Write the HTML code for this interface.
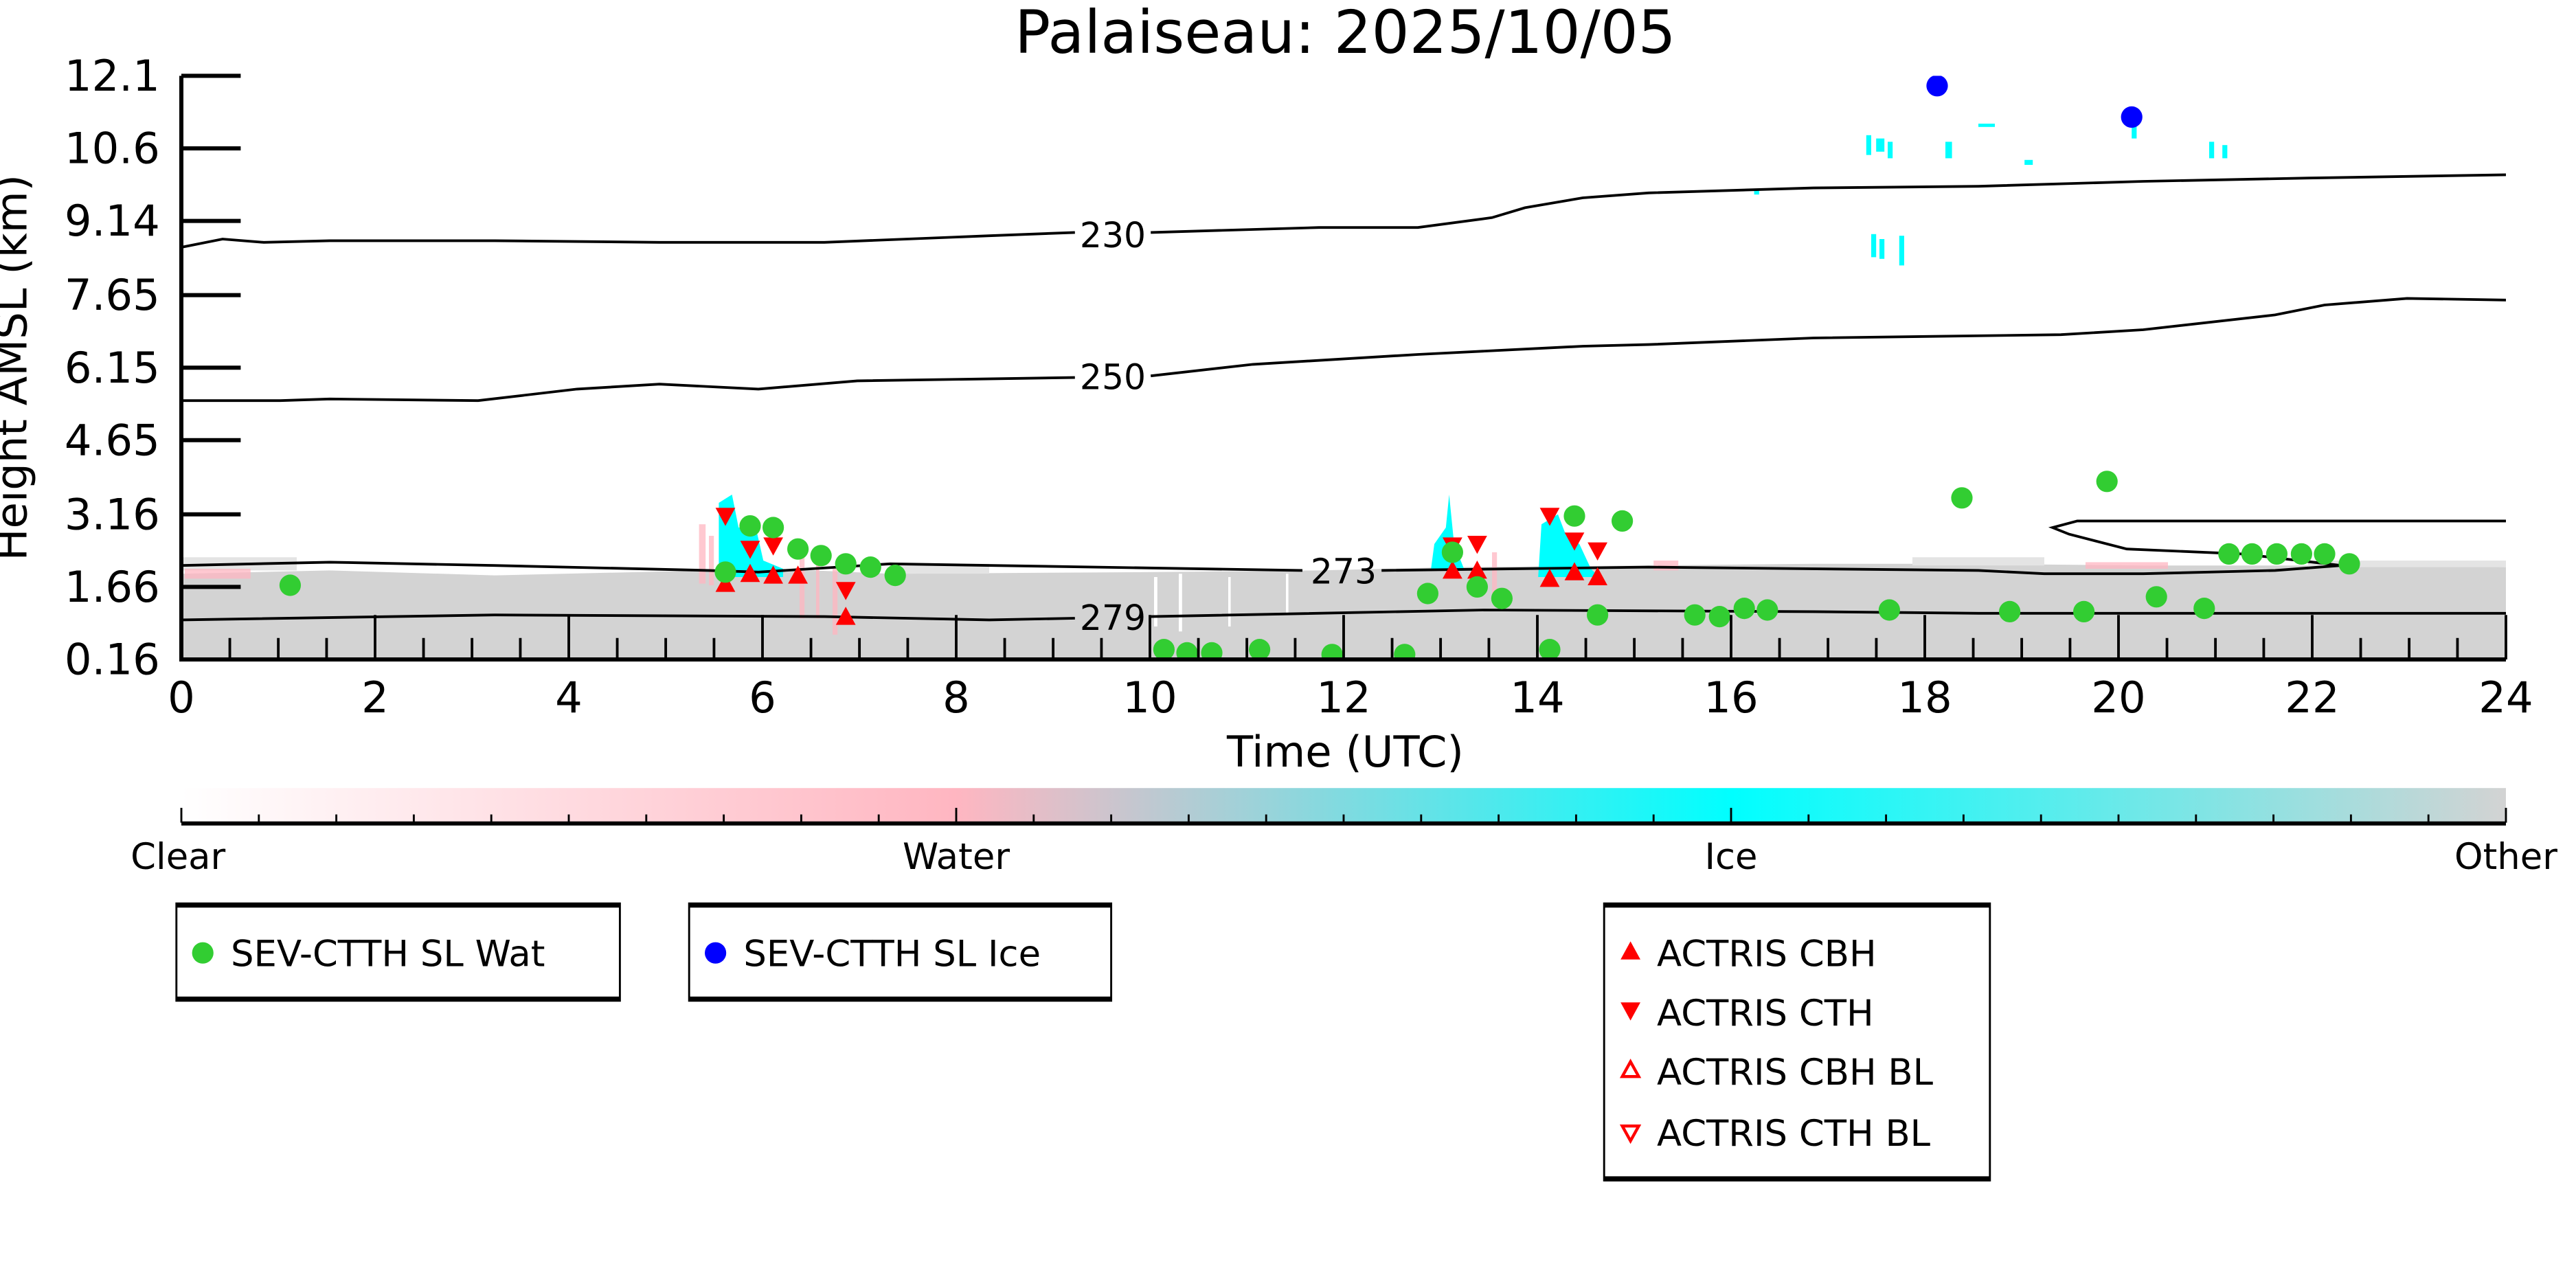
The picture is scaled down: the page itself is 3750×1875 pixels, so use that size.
<!DOCTYPE html>
<html><head><meta charset="utf-8"><style>html,body{margin:0;padding:0;background:#fff}svg{display:block}text{font-family:"DejaVu Sans","Liberation Sans",sans-serif}</style></head>
<body>
<svg xmlns="http://www.w3.org/2000/svg" width="3750" height="1875" viewBox="0 0 1562.5 781.25">
<defs>
<linearGradient id="cb" x1="0" x2="1" y1="0" y2="0">
<stop offset="0" stop-color="#ffffff"/><stop offset="0.333" stop-color="#ffb6c1"/><stop offset="0.667" stop-color="#00ffff"/><stop offset="1" stop-color="#d3d3d3"/>
</linearGradient>
<clipPath id="ax"><rect x="110" y="46" width="1410" height="354"/></clipPath>
</defs>
<rect width="1562.5" height="781.25" fill="#fff"/>
<text x="816" y="32" font-size="36" text-anchor="middle">Palaiseau: 2025/10/05</text>
<g clip-path="url(#ax)">
<path d="M110,348 L200,346 L300,349 L430,346 L470,345 L540,348 L700,347 L800,346 L880,344 L1000,343 L1100,342 L1200,342 L1300,343 L1400,343 L1520,344 L1520,400 L110,400Z" fill="#d3d3d3"/>
<g fill="#e4e4e4"><rect x="110" y="338" width="70" height="8"/><rect x="540" y="342" width="60" height="6"/><rect x="1160" y="338" width="80" height="5"/><rect x="1400" y="340" width="120" height="4"/></g>
<g fill="#fff"><rect x="700" y="350" width="2" height="30"/><rect x="715" y="348" width="2" height="35"/><rect x="745" y="350" width="1.5" height="30"/><rect x="780" y="348" width="1.5" height="25"/></g>
<g fill="#ffb6c1" opacity="0.75"><rect x="112" y="345" width="40" height="6"/><rect x="424" y="318" width="4" height="36"/><rect x="430" y="325" width="3" height="30"/><rect x="485" y="335" width="3" height="40"/><rect x="495" y="340" width="2" height="35"/><rect x="505" y="345" width="3" height="40"/><rect x="1003" y="340" width="15" height="6"/><rect x="905" y="335" width="3" height="30"/><rect x="1265" y="341" width="50" height="4"/></g>
<g fill="#00ffff">
<path d="M436,350 L436,305 L444,300 L448,320 L458,318 L463,340 L475,345 L475,350Z"/>
<path d="M868,345 L870,330 L877,320 L879,300 L882,330 L888,345Z"/>
<path d="M933,350 L935,318 L945,312 L950,325 L958,330 L965,345 L970,350Z"/>
<rect x="1132" y="82" width="3" height="12"/><rect x="1138" y="84" width="5" height="8"/><rect x="1145" y="86" width="3" height="10"/><rect x="1180" y="86" width="4" height="10"/><rect x="1135" y="142" width="3" height="14"/><rect x="1140" y="145" width="3" height="12"/><rect x="1152" y="143" width="3" height="18"/><rect x="1340" y="86" width="3" height="10"/><rect x="1348" y="88" width="3" height="8"/><rect x="1228" y="97" width="5" height="3"/><rect x="1200" y="75" width="10" height="2"/><rect x="1293" y="76" width="3" height="8"/><rect x="1064" y="115" width="3" height="3"/></g>
<g fill="none" stroke="#000" stroke-width="1.6">
<polyline points="110,150 135,145 160,147 200,146 300,146 400,147 500,147 600,143 652,141"/>
<polyline points="698,141 800,138 860,138 905,132 925,126 960,120 1000,117 1100,114 1200,113 1300,110 1400,108 1520,106"/>
<polyline points="110,243 170,243 200,242 290,243 350,236 400,233 460,236 520,231 652,229"/>
<polyline points="698,228 760,221 860,215 960,210 1000,209 1100,205 1250,203 1300,200 1380,191 1410,185 1460,181 1520,182"/>
<polyline points="110,343 200,341 300,343 430,346 460,347 540,342 790,346"/>
<polyline points="838,346 1000,344 1200,346 1240,348 1300,348 1380,346 1420,343 1360,336 1290,333 1255,324 1245,320 1260,316 1400,316 1520,316"/>
<polyline points="110,376 300,373 500,374 600,376 652,375"/>
<polyline points="698,374 900,370 1100,371 1200,372 1520,372"/>
</g>
<g font-size="21" text-anchor="middle">
<text x="675" y="150">230</text><text x="675" y="236">250</text><text x="815" y="354">273</text><text x="675" y="382">279</text></g>
<g fill="#ff0000">
<path d="M440,348 l-6,11 h12z M455,342 l-6,11 h12z M469,343 l-6,11 h12z M484,343 l-6,11 h12z M513,368 l-6,11 h12z M881,340 l-6,11 h12z M896,340 l-6,11 h12z M940,345 l-6,11 h12z M955,341 l-6,11 h12z M969,344 l-6,11 h12z"/>
<path d="M440,319 l-6,-11 h12z M455,339 l-6,-11 h12z M469,337 l-6,-11 h12z M513,364 l-6,-11 h12z M881,337 l-6,-11 h12z M896,336 l-6,-11 h12z M940,319 l-6,-11 h12z M955,334 l-6,-11 h12z M969,340 l-6,-11 h12z"/>
</g>
<g fill="#32cd32">
<circle cx="176" cy="355" r="6.5"/><circle cx="440" cy="347" r="6.5"/><circle cx="455" cy="319" r="6.5"/><circle cx="469" cy="320" r="6.5"/><circle cx="484" cy="333" r="6.5"/><circle cx="498" cy="337" r="6.5"/><circle cx="513" cy="342" r="6.5"/><circle cx="528" cy="344" r="6.5"/><circle cx="543" cy="349" r="6.5"/><circle cx="706" cy="394" r="6.5"/><circle cx="720" cy="396" r="6.5"/><circle cx="735" cy="396" r="6.5"/><circle cx="764" cy="394" r="6.5"/><circle cx="808" cy="397" r="6.5"/><circle cx="852" cy="397" r="6.5"/><circle cx="866" cy="360" r="6.5"/><circle cx="881" cy="335" r="6.5"/><circle cx="896" cy="356" r="6.5"/><circle cx="911" cy="363" r="6.5"/><circle cx="940" cy="394" r="6.5"/><circle cx="955" cy="313" r="6.5"/><circle cx="969" cy="373" r="6.5"/><circle cx="984" cy="316" r="6.5"/><circle cx="1028" cy="373" r="6.5"/><circle cx="1043" cy="374" r="6.5"/><circle cx="1058" cy="369" r="6.5"/><circle cx="1072" cy="370" r="6.5"/><circle cx="1146" cy="370" r="6.5"/><circle cx="1190" cy="302" r="6.5"/><circle cx="1219" cy="371" r="6.5"/><circle cx="1264" cy="371" r="6.5"/><circle cx="1278" cy="292" r="6.5"/><circle cx="1308" cy="362" r="6.5"/><circle cx="1337" cy="369" r="6.5"/><circle cx="1352" cy="336" r="6.5"/><circle cx="1366" cy="336" r="6.5"/><circle cx="1381" cy="336" r="6.5"/><circle cx="1396" cy="336" r="6.5"/><circle cx="1410" cy="336" r="6.5"/><circle cx="1425" cy="342" r="6.5"/>
</g>
<g fill="#0000ff"><circle cx="1175" cy="52" r="6.5"/><circle cx="1293" cy="71" r="6.5"/></g>
</g>
<g stroke="#000" fill="none">
<path d="M110,46 V400 H1520" stroke-width="2.5"/>
<path d="M110,46h36M110,90h36M110,134h36M110,179h36M110,223h36M110,267h36M110,312h36M110,356h36M110,400h36" stroke-width="2.5"/>
<path d="M110,400v-27M227.5,400v-27M345,400v-27M462.5,400v-27M580,400v-27M697.5,400v-27M815,400v-27M932.5,400v-27M1050,400v-27M1167.5,400v-27M1285,400v-27M1402.5,400v-27M1520,400v-27" stroke-width="1.6"/>
<path d="M139.4,400v-13M168.8,400v-13M198.1,400v-13M256.9,400v-13M286.3,400v-13M315.6,400v-13M374.4,400v-13M403.8,400v-13M433.1,400v-13M491.9,400v-13M521.3,400v-13M550.6,400v-13M609.4,400v-13M638.8,400v-13M668.1,400v-13M726.9,400v-13M756.3,400v-13M785.6,400v-13M844.4,400v-13M873.8,400v-13M903.1,400v-13M961.9,400v-13M991.3,400v-13M1020.6,400v-13M1079.4,400v-13M1108.8,400v-13M1138.1,400v-13M1196.9,400v-13M1226.3,400v-13M1255.6,400v-13M1314.4,400v-13M1343.8,400v-13M1373.1,400v-13M1431.9,400v-13M1461.3,400v-13M1490.6,400v-13" stroke-width="1.6"/>
</g>
<g font-size="26" text-anchor="end">
<text x="97" y="55">12.1</text><text x="97" y="99">10.6</text><text x="97" y="143">9.14</text><text x="97" y="188">7.65</text><text x="97" y="232">6.15</text><text x="97" y="276">4.65</text><text x="97" y="321">3.16</text><text x="97" y="365">1.66</text><text x="97" y="409">0.16</text></g>
<g font-size="26" text-anchor="middle">
<text x="110" y="432">0</text><text x="227.5" y="432">2</text><text x="345" y="432">4</text><text x="462.5" y="432">6</text><text x="580" y="432">8</text><text x="697.5" y="432">10</text><text x="815" y="432">12</text><text x="932.5" y="432">14</text><text x="1050" y="432">16</text><text x="1167.5" y="432">18</text><text x="1285" y="432">20</text><text x="1402.5" y="432">22</text><text x="1520" y="432">24</text>
<text x="816" y="465">Time (UTC)</text>
<text transform="translate(16,223) rotate(-90)">Height AMSL (km)</text></g>
<rect x="110" y="478" width="1410" height="21" fill="url(#cb)"/>
<path d="M110,499.5H1520" stroke="#000" stroke-width="2.5"/>
<g stroke="#000" stroke-width="1.2">
<path d="M110,499v-9M580,499v-9M1050,499v-9M1520,499v-9"/>
<path d="M157,499v-5M204,499v-5M251,499v-5M298,499v-5M345,499v-5M392,499v-5M439,499v-5M486,499v-5M533,499v-5M627,499v-5M674,499v-5M721,499v-5M768,499v-5M815,499v-5M862,499v-5M909,499v-5M956,499v-5M1003,499v-5M1097,499v-5M1144,499v-5M1191,499v-5M1238,499v-5M1285,499v-5M1332,499v-5M1379,499v-5M1426,499v-5M1473,499v-5"/></g>
<g font-size="22" text-anchor="middle"><text x="108" y="527">Clear</text><text x="580" y="527">Water</text><text x="1050" y="527">Ice</text><text x="1520" y="527">Other</text></g>
<g fill="none" stroke="#000">
<rect x="107" y="548" width="269" height="59" stroke-width="1.2"/><path d="M107,549H376M107,606H376" stroke-width="3"/>
<rect x="418" y="548" width="256" height="59" stroke-width="1.2"/><path d="M418,549H674M418,606H674" stroke-width="3"/>
<rect x="973" y="548" width="234" height="168" stroke-width="1.2"/><path d="M973,549H1207M973,715H1207" stroke-width="3"/>
</g>
<circle cx="123" cy="578" r="6.5" fill="#32cd32"/><circle cx="434" cy="578" r="6.5" fill="#0000ff"/>
<g font-size="22"><text x="140" y="586">SEV-CTTH SL Wat</text><text x="451" y="586">SEV-CTTH SL Ice</text>
<text x="1005" y="586">ACTRIS CBH</text><text x="1005" y="622">ACTRIS CTH</text><text x="1005" y="658">ACTRIS CBH BL</text><text x="1005" y="695">ACTRIS CTH BL</text></g>
<path d="M989,571 l-6,11 h12z" fill="#f00"/><path d="M989,619 l-6,-11 h12z" fill="#f00"/>
<path d="M989,644 l-5,9 h10z" fill="none" stroke="#f00" stroke-width="1.8"/><path d="M989,692 l-5,-9 h10z" fill="none" stroke="#f00" stroke-width="1.8"/>
</svg>
</body></html>
